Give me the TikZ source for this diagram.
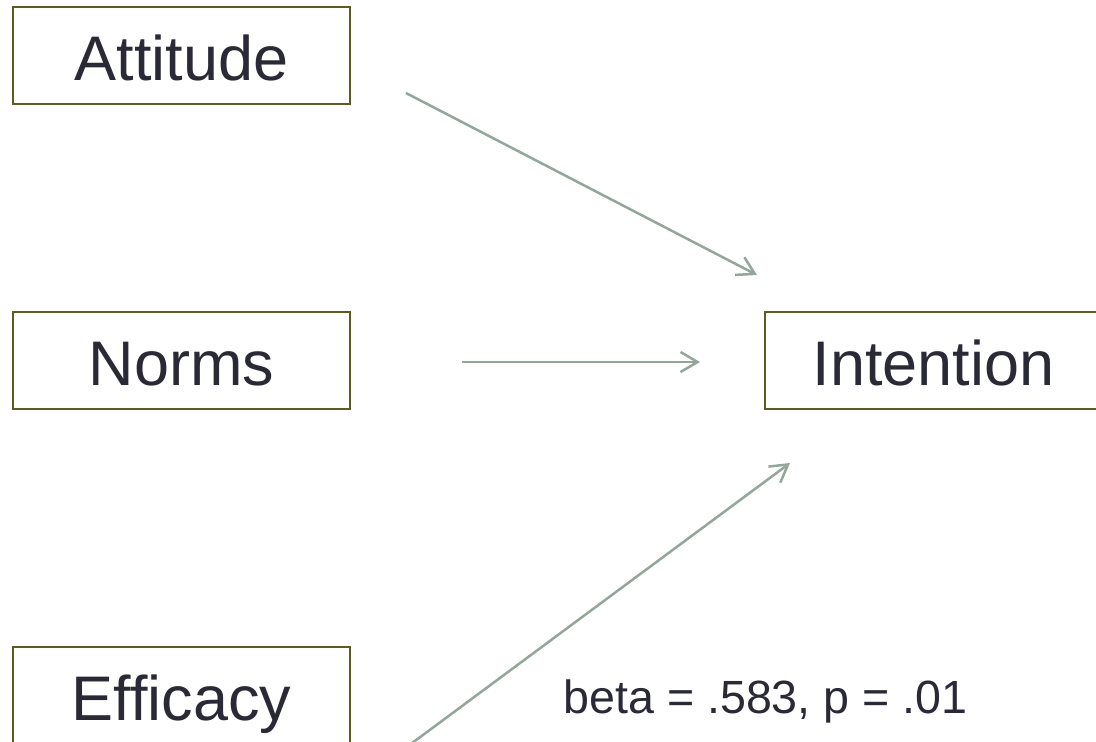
\documentclass[tikz,border=0pt]{standalone}
\usepackage{fontspec}
\setmainfont{Liberation Sans}
\usepackage{tikz}
\usetikzlibrary{arrows.meta, positioning}

\definecolor{boxline}{HTML}{5E5B22}
\definecolor{pathline}{HTML}{93A69A}
\definecolor{inktext}{HTML}{2A2A36}

\tikzset{
    varbox/.style={draw=boxline, line width=1pt, minimum width=168.5pt, minimum height=48.5pt,
        text height=24.5pt, text depth=0pt, inner sep=0pt, text=inktext,
        font=\fontsize{31.5}{36}\selectfont},
    pathto/.style={draw=pathline, line width=1.25pt, -{Straight Barb[length=8.5pt, width=10pt]}},
    coeff/.style={text=inktext, inner sep=0pt, font=\fontsize{23.3}{28}\selectfont}
}

\begin{document}
\begin{tikzpicture}[x=0.5pt, y=-0.5pt]
        % cadre de la page (1096 x 741)
        \clip (0,0) rectangle (1096,741);

        % Variables du modele
        \node[varbox] (attitude) at (181.5,55.5) {Attitude};
        \node[varbox] (norms) at (181.5,360.5) {Norms};
        \node[varbox] (efficacy) at (181.5,695.5) {Efficacy};
        \node[varbox] (intention) at (933.5,360.5) {Intention};

        % Extremites des chemins
        \coordinate (attout) at (406,93);   \coordinate (attin) at (757,275);
        \coordinate (normout) at (462,362); \coordinate (normin) at (700,362);
        \coordinate (effout) at (400,752);  \coordinate (effin) at (790,463);

        % Chemins vers l'intention
        \draw[pathto] (attout) -- (attin);
        \draw[pathto] (normout) -- (normin);
        \draw[pathto] (effout) -- (effin);

        % Coefficient
        \node[coeff, anchor=base] (beta) at (765.5,713) {beta = .583, p = .01};

\end{tikzpicture}
\end{document}
